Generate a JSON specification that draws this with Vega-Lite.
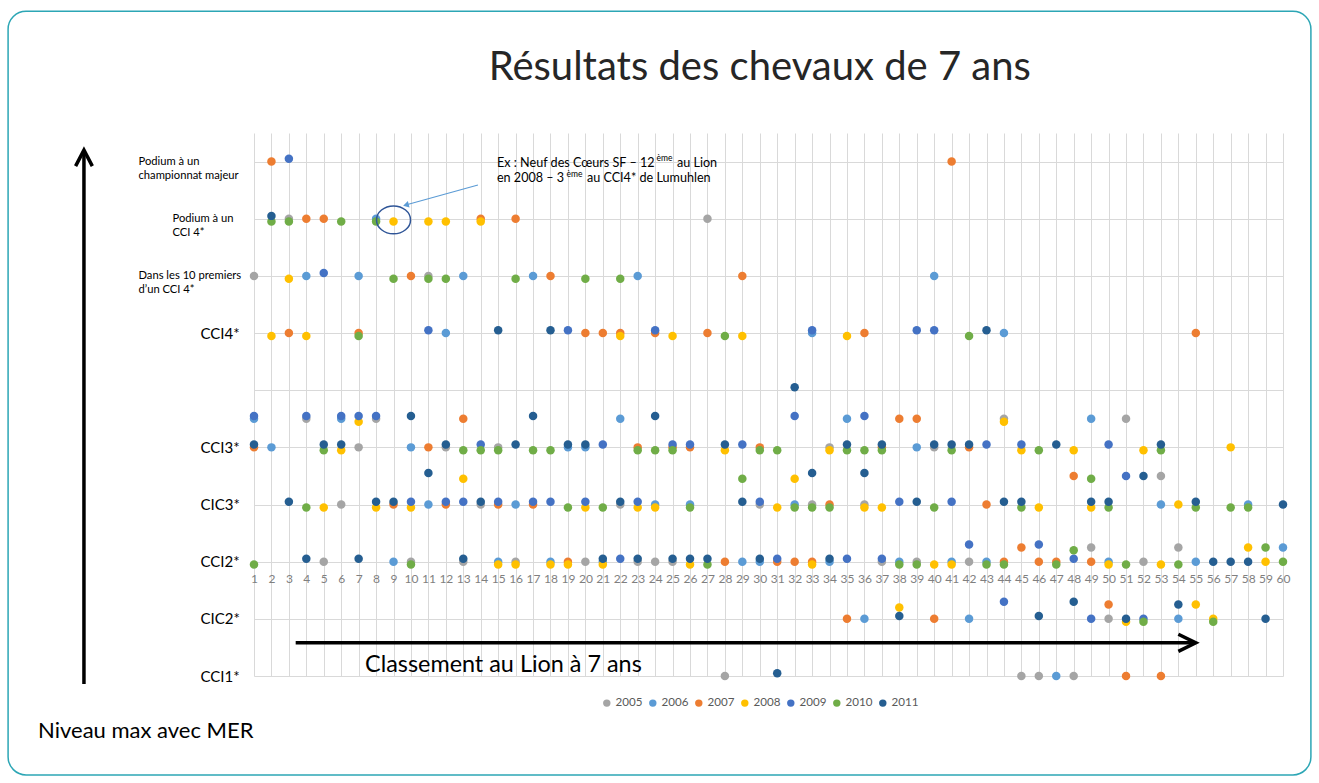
{
"$schema": "https://vega.github.io/schema/vega-lite/v6.json",
"width": 1029, "height": 543,
"autosize": {"type": "none"},
"padding": {"left": 254, "top": 133, "right": 36, "bottom": 107},
"background": "white",
"config": {"view": {"stroke": null}, "font": "Lato"},
"datasets": {
"pts": [
{"rang":1,"niveau":8,"annee":"2005"},{"rang":1,"niveau":5.55,"annee":"2009"},{"rang":1,"niveau":5.5,"annee":"2006"},{"rang":1,"niveau":5.05,"annee":"2011"},{"rang":1,"niveau":5,"annee":"2007"},{"rang":1,"niveau":2.95,"annee":"2010"},
{"rang":2,"niveau":10,"annee":"2007"},{"rang":2,"niveau":9.05,"annee":"2011"},{"rang":2,"niveau":8.95,"annee":"2010"},{"rang":2,"niveau":6.95,"annee":"2008"},{"rang":2,"niveau":5,"annee":"2006"},
{"rang":3,"niveau":10.05,"annee":"2009"},{"rang":3,"niveau":9,"annee":"2005"},{"rang":3,"niveau":8.95,"annee":"2010"},{"rang":3,"niveau":7.95,"annee":"2008"},{"rang":3,"niveau":7,"annee":"2007"},{"rang":3,"niveau":4.05,"annee":"2011"},
{"rang":4,"niveau":9,"annee":"2007"},{"rang":4,"niveau":8,"annee":"2006"},{"rang":4,"niveau":6.95,"annee":"2008"},{"rang":4,"niveau":5.55,"annee":"2009"},{"rang":4,"niveau":5.5,"annee":"2005"},{"rang":4,"niveau":3.95,"annee":"2010"},{"rang":4,"niveau":3.05,"annee":"2011"},
{"rang":5,"niveau":9,"annee":"2007"},{"rang":5,"niveau":8.05,"annee":"2009"},{"rang":5,"niveau":5.05,"annee":"2011"},{"rang":5,"niveau":4.95,"annee":"2010"},{"rang":5,"niveau":3.95,"annee":"2008"},{"rang":5,"niveau":3,"annee":"2005"},
{"rang":6,"niveau":8.95,"annee":"2010"},{"rang":6,"niveau":5.55,"annee":"2009"},{"rang":6,"niveau":5.5,"annee":"2006"},{"rang":6,"niveau":5.05,"annee":"2011"},{"rang":6,"niveau":4.95,"annee":"2008"},{"rang":6,"niveau":4,"annee":"2005"},
{"rang":7,"niveau":8,"annee":"2006"},{"rang":7,"niveau":7,"annee":"2007"},{"rang":7,"niveau":6.95,"annee":"2010"},{"rang":7,"niveau":5.55,"annee":"2009"},{"rang":7,"niveau":5.45,"annee":"2008"},{"rang":7,"niveau":5,"annee":"2005"},{"rang":7,"niveau":3.05,"annee":"2011"},
{"rang":8,"niveau":9,"annee":"2006"},{"rang":8,"niveau":8.95,"annee":"2010"},{"rang":8,"niveau":5.55,"annee":"2009"},{"rang":8,"niveau":5.5,"annee":"2005"},{"rang":8,"niveau":4.05,"annee":"2011"},{"rang":8,"niveau":3.95,"annee":"2008"},
{"rang":9,"niveau":8.95,"annee":"2008"},{"rang":9,"niveau":7.95,"annee":"2010"},{"rang":9,"niveau":4.05,"annee":"2011"},{"rang":9,"niveau":4,"annee":"2007"},{"rang":9,"niveau":3,"annee":"2006"},
{"rang":10,"niveau":8,"annee":"2007"},{"rang":10,"niveau":5.55,"annee":"2011"},{"rang":10,"niveau":5,"annee":"2006"},{"rang":10,"niveau":4.05,"annee":"2009"},{"rang":10,"niveau":3.95,"annee":"2008"},{"rang":10,"niveau":3,"annee":"2005"},{"rang":10,"niveau":2.95,"annee":"2010"},
{"rang":11,"niveau":8.95,"annee":"2008"},{"rang":11,"niveau":8,"annee":"2005"},{"rang":11,"niveau":7.95,"annee":"2010"},{"rang":11,"niveau":7.05,"annee":"2009"},{"rang":11,"niveau":5,"annee":"2007"},{"rang":11,"niveau":4.55,"annee":"2011"},{"rang":11,"niveau":4,"annee":"2006"},
{"rang":12,"niveau":8.95,"annee":"2008"},{"rang":12,"niveau":7.95,"annee":"2010"},{"rang":12,"niveau":7,"annee":"2006"},{"rang":12,"niveau":5.05,"annee":"2011"},{"rang":12,"niveau":5,"annee":"2005"},{"rang":12,"niveau":4.05,"annee":"2009"},{"rang":12,"niveau":4,"annee":"2007"},
{"rang":13,"niveau":8,"annee":"2006"},{"rang":13,"niveau":5.5,"annee":"2007"},{"rang":13,"niveau":4.95,"annee":"2010"},{"rang":13,"niveau":4.45,"annee":"2008"},{"rang":13,"niveau":4.05,"annee":"2009"},{"rang":13,"niveau":3.05,"annee":"2011"},{"rang":13,"niveau":3,"annee":"2005"},
{"rang":14,"niveau":9,"annee":"2007"},{"rang":14,"niveau":8.95,"annee":"2008"},{"rang":14,"niveau":5.05,"annee":"2009"},{"rang":14,"niveau":4.95,"annee":"2010"},{"rang":14,"niveau":4.05,"annee":"2011"},{"rang":14,"niveau":4,"annee":"2005"},
{"rang":15,"niveau":7.05,"annee":"2011"},{"rang":15,"niveau":5,"annee":"2005"},{"rang":15,"niveau":4.95,"annee":"2010"},{"rang":15,"niveau":4.05,"annee":"2009"},{"rang":15,"niveau":4,"annee":"2007"},{"rang":15,"niveau":3,"annee":"2006"},{"rang":15,"niveau":2.95,"annee":"2008"},
{"rang":16,"niveau":9,"annee":"2007"},{"rang":16,"niveau":7.95,"annee":"2010"},{"rang":16,"niveau":5.05,"annee":"2011"},{"rang":16,"niveau":4,"annee":"2006"},{"rang":16,"niveau":3,"annee":"2005"},{"rang":16,"niveau":2.95,"annee":"2008"},
{"rang":17,"niveau":8,"annee":"2006"},{"rang":17,"niveau":5.55,"annee":"2011"},{"rang":17,"niveau":4.95,"annee":"2010"},{"rang":17,"niveau":4.05,"annee":"2009"},{"rang":17,"niveau":4,"annee":"2007"},
{"rang":18,"niveau":8,"annee":"2007"},{"rang":18,"niveau":7.05,"annee":"2011"},{"rang":18,"niveau":4.95,"annee":"2010"},{"rang":18,"niveau":4.05,"annee":"2009"},{"rang":18,"niveau":3,"annee":"2006"},{"rang":18,"niveau":2.95,"annee":"2008"},
{"rang":19,"niveau":7.05,"annee":"2009"},{"rang":19,"niveau":5.05,"annee":"2011"},{"rang":19,"niveau":5,"annee":"2006"},{"rang":19,"niveau":3.95,"annee":"2010"},{"rang":19,"niveau":3,"annee":"2007"},{"rang":19,"niveau":2.95,"annee":"2008"},
{"rang":20,"niveau":7.95,"annee":"2010"},{"rang":20,"niveau":7,"annee":"2007"},{"rang":20,"niveau":5.05,"annee":"2011"},{"rang":20,"niveau":5,"annee":"2006"},{"rang":20,"niveau":4.05,"annee":"2009"},{"rang":20,"niveau":3.95,"annee":"2008"},{"rang":20,"niveau":3,"annee":"2005"},
{"rang":21,"niveau":7,"annee":"2007"},{"rang":21,"niveau":5.05,"annee":"2009"},{"rang":21,"niveau":3.95,"annee":"2010"},{"rang":21,"niveau":3.05,"annee":"2011"},{"rang":21,"niveau":3,"annee":"2006"},{"rang":21,"niveau":2.95,"annee":"2008"},
{"rang":22,"niveau":7.95,"annee":"2010"},{"rang":22,"niveau":7,"annee":"2007"},{"rang":22,"niveau":6.95,"annee":"2008"},{"rang":22,"niveau":5.5,"annee":"2006"},{"rang":22,"niveau":4.05,"annee":"2011"},{"rang":22,"niveau":4,"annee":"2005"},{"rang":22,"niveau":3.05,"annee":"2009"},
{"rang":23,"niveau":8,"annee":"2006"},{"rang":23,"niveau":5,"annee":"2007"},{"rang":23,"niveau":4.95,"annee":"2010"},{"rang":23,"niveau":4.05,"annee":"2009"},{"rang":23,"niveau":3.95,"annee":"2008"},{"rang":23,"niveau":3.05,"annee":"2011"},{"rang":23,"niveau":3,"annee":"2005"},
{"rang":24,"niveau":7.05,"annee":"2009"},{"rang":24,"niveau":7,"annee":"2007"},{"rang":24,"niveau":5.55,"annee":"2011"},{"rang":24,"niveau":4.95,"annee":"2010"},{"rang":24,"niveau":4,"annee":"2006"},{"rang":24,"niveau":3.95,"annee":"2008"},{"rang":24,"niveau":3,"annee":"2005"},
{"rang":25,"niveau":6.95,"annee":"2008"},{"rang":25,"niveau":5.05,"annee":"2009"},{"rang":25,"niveau":5,"annee":"2007"},{"rang":25,"niveau":4.95,"annee":"2010"},{"rang":25,"niveau":3.05,"annee":"2011"},{"rang":25,"niveau":3,"annee":"2005"},
{"rang":26,"niveau":5.05,"annee":"2009"},{"rang":26,"niveau":5,"annee":"2007"},{"rang":26,"niveau":4,"annee":"2006"},{"rang":26,"niveau":3.95,"annee":"2010"},{"rang":26,"niveau":3.05,"annee":"2011"},{"rang":26,"niveau":2.95,"annee":"2008"},
{"rang":27,"niveau":9,"annee":"2005"},{"rang":27,"niveau":7,"annee":"2007"},{"rang":27,"niveau":3.05,"annee":"2011"},{"rang":27,"niveau":2.95,"annee":"2010"},
{"rang":28,"niveau":6.95,"annee":"2010"},{"rang":28,"niveau":5.05,"annee":"2011"},{"rang":28,"niveau":4.95,"annee":"2008"},{"rang":28,"niveau":3,"annee":"2007"},{"rang":28,"niveau":1,"annee":"2005"},
{"rang":29,"niveau":8,"annee":"2007"},{"rang":29,"niveau":6.95,"annee":"2008"},{"rang":29,"niveau":5.05,"annee":"2009"},{"rang":29,"niveau":4.45,"annee":"2010"},{"rang":29,"niveau":4.05,"annee":"2011"},{"rang":29,"niveau":3,"annee":"2006"},
{"rang":30,"niveau":5,"annee":"2007"},{"rang":30,"niveau":4.95,"annee":"2010"},{"rang":30,"niveau":4.05,"annee":"2009"},{"rang":30,"niveau":4,"annee":"2005"},{"rang":30,"niveau":3.05,"annee":"2011"},{"rang":30,"niveau":3,"annee":"2006"},
{"rang":31,"niveau":4.95,"annee":"2010"},{"rang":31,"niveau":3.95,"annee":"2008"},{"rang":31,"niveau":3.05,"annee":"2009"},{"rang":31,"niveau":3,"annee":"2007"},{"rang":31,"niveau":1.05,"annee":"2011"},
{"rang":32,"niveau":6.05,"annee":"2011"},{"rang":32,"niveau":5.55,"annee":"2009"},{"rang":32,"niveau":4.45,"annee":"2008"},{"rang":32,"niveau":4,"annee":"2006"},{"rang":32,"niveau":3.95,"annee":"2010"},{"rang":32,"niveau":3,"annee":"2007"},
{"rang":33,"niveau":7.05,"annee":"2009"},{"rang":33,"niveau":7,"annee":"2006"},{"rang":33,"niveau":4.55,"annee":"2011"},{"rang":33,"niveau":4,"annee":"2005"},{"rang":33,"niveau":3.95,"annee":"2010"},{"rang":33,"niveau":3,"annee":"2007"},{"rang":33,"niveau":2.95,"annee":"2008"},
{"rang":34,"niveau":5,"annee":"2005"},{"rang":34,"niveau":4.95,"annee":"2008"},{"rang":34,"niveau":4,"annee":"2007"},{"rang":34,"niveau":3.95,"annee":"2010"},{"rang":34,"niveau":3.05,"annee":"2011"},{"rang":34,"niveau":3,"annee":"2006"},
{"rang":35,"niveau":6.95,"annee":"2008"},{"rang":35,"niveau":5.5,"annee":"2006"},{"rang":35,"niveau":5.05,"annee":"2011"},{"rang":35,"niveau":4.95,"annee":"2010"},{"rang":35,"niveau":3.05,"annee":"2009"},{"rang":35,"niveau":2,"annee":"2007"},
{"rang":36,"niveau":7,"annee":"2007"},{"rang":36,"niveau":5.55,"annee":"2009"},{"rang":36,"niveau":4.95,"annee":"2010"},{"rang":36,"niveau":4.55,"annee":"2011"},{"rang":36,"niveau":4,"annee":"2005"},{"rang":36,"niveau":3.95,"annee":"2008"},{"rang":36,"niveau":2,"annee":"2006"},
{"rang":37,"niveau":5.05,"annee":"2011"},{"rang":37,"niveau":5,"annee":"2007"},{"rang":37,"niveau":4.95,"annee":"2010"},{"rang":37,"niveau":3.95,"annee":"2008"},{"rang":37,"niveau":3.05,"annee":"2009"},{"rang":37,"niveau":3,"annee":"2005"},
{"rang":38,"niveau":5.5,"annee":"2007"},{"rang":38,"niveau":4.05,"annee":"2009"},{"rang":38,"niveau":3,"annee":"2006"},{"rang":38,"niveau":2.95,"annee":"2010"},{"rang":38,"niveau":2.2,"annee":"2008"},{"rang":38,"niveau":2.05,"annee":"2011"},
{"rang":39,"niveau":7.05,"annee":"2009"},{"rang":39,"niveau":5.5,"annee":"2007"},{"rang":39,"niveau":5,"annee":"2006"},{"rang":39,"niveau":4.05,"annee":"2011"},{"rang":39,"niveau":3,"annee":"2005"},{"rang":39,"niveau":2.95,"annee":"2010"},
{"rang":40,"niveau":8,"annee":"2006"},{"rang":40,"niveau":7.05,"annee":"2009"},{"rang":40,"niveau":5.05,"annee":"2011"},{"rang":40,"niveau":5,"annee":"2005"},{"rang":40,"niveau":3.95,"annee":"2010"},{"rang":40,"niveau":2.95,"annee":"2008"},{"rang":40,"niveau":2,"annee":"2007"},
{"rang":41,"niveau":10,"annee":"2007"},{"rang":41,"niveau":5.05,"annee":"2011"},{"rang":41,"niveau":4.95,"annee":"2010"},{"rang":41,"niveau":4.05,"annee":"2009"},{"rang":41,"niveau":3,"annee":"2006"},{"rang":41,"niveau":2.95,"annee":"2008"},
{"rang":42,"niveau":6.95,"annee":"2010"},{"rang":42,"niveau":5.05,"annee":"2011"},{"rang":42,"niveau":5,"annee":"2007"},{"rang":42,"niveau":3.3,"annee":"2009"},{"rang":42,"niveau":3,"annee":"2005"},{"rang":42,"niveau":2,"annee":"2006"},
{"rang":43,"niveau":7.05,"annee":"2011"},{"rang":43,"niveau":5.05,"annee":"2009"},{"rang":43,"niveau":4,"annee":"2007"},{"rang":43,"niveau":3,"annee":"2006"},{"rang":43,"niveau":2.95,"annee":"2010"},
{"rang":44,"niveau":7,"annee":"2006"},{"rang":44,"niveau":5.5,"annee":"2005"},{"rang":44,"niveau":5.45,"annee":"2008"},{"rang":44,"niveau":4.05,"annee":"2011"},{"rang":44,"niveau":3,"annee":"2007"},{"rang":44,"niveau":2.95,"annee":"2010"},{"rang":44,"niveau":2.3,"annee":"2009"},
{"rang":45,"niveau":5.05,"annee":"2009"},{"rang":45,"niveau":4.95,"annee":"2008"},{"rang":45,"niveau":4.05,"annee":"2011"},{"rang":45,"niveau":3.95,"annee":"2010"},{"rang":45,"niveau":3.25,"annee":"2007"},{"rang":45,"niveau":1,"annee":"2005"},
{"rang":46,"niveau":4.95,"annee":"2010"},{"rang":46,"niveau":3.95,"annee":"2008"},{"rang":46,"niveau":3.3,"annee":"2009"},{"rang":46,"niveau":3,"annee":"2007"},{"rang":46,"niveau":2.05,"annee":"2011"},{"rang":46,"niveau":1,"annee":"2005"},
{"rang":47,"niveau":5.05,"annee":"2011"},{"rang":47,"niveau":3,"annee":"2007"},{"rang":47,"niveau":2.95,"annee":"2010"},{"rang":47,"niveau":1,"annee":"2006"},
{"rang":48,"niveau":4.95,"annee":"2008"},{"rang":48,"niveau":4.5,"annee":"2007"},{"rang":48,"niveau":3.2,"annee":"2010"},{"rang":48,"niveau":3.05,"annee":"2009"},{"rang":48,"niveau":2.3,"annee":"2011"},{"rang":48,"niveau":1,"annee":"2005"},
{"rang":49,"niveau":5.5,"annee":"2006"},{"rang":49,"niveau":4.45,"annee":"2010"},{"rang":49,"niveau":4.05,"annee":"2011"},{"rang":49,"niveau":3.95,"annee":"2008"},{"rang":49,"niveau":3.25,"annee":"2005"},{"rang":49,"niveau":3,"annee":"2007"},{"rang":49,"niveau":2,"annee":"2009"},
{"rang":50,"niveau":5.05,"annee":"2009"},{"rang":50,"niveau":4.05,"annee":"2011"},{"rang":50,"niveau":3.95,"annee":"2010"},{"rang":50,"niveau":3,"annee":"2006"},{"rang":50,"niveau":2.95,"annee":"2008"},{"rang":50,"niveau":2.25,"annee":"2007"},{"rang":50,"niveau":2,"annee":"2005"},
{"rang":51,"niveau":5.5,"annee":"2005"},{"rang":51,"niveau":4.5,"annee":"2009"},{"rang":51,"niveau":2.95,"annee":"2010"},{"rang":51,"niveau":2,"annee":"2011"},{"rang":51,"niveau":1.95,"annee":"2008"},{"rang":51,"niveau":1,"annee":"2007"},
{"rang":52,"niveau":4.95,"annee":"2008"},{"rang":52,"niveau":4.5,"annee":"2011"},{"rang":52,"niveau":3,"annee":"2005"},{"rang":52,"niveau":2,"annee":"2009"},{"rang":52,"niveau":1.95,"annee":"2010"},
{"rang":53,"niveau":5.05,"annee":"2011"},{"rang":53,"niveau":4.95,"annee":"2010"},{"rang":53,"niveau":4.5,"annee":"2005"},{"rang":53,"niveau":4,"annee":"2006"},{"rang":53,"niveau":2.95,"annee":"2008"},{"rang":53,"niveau":1,"annee":"2007"},
{"rang":54,"niveau":4,"annee":"2008"},{"rang":54,"niveau":3.25,"annee":"2005"},{"rang":54,"niveau":2.95,"annee":"2010"},{"rang":54,"niveau":2.25,"annee":"2011"},{"rang":54,"niveau":2,"annee":"2006"},
{"rang":55,"niveau":7,"annee":"2007"},{"rang":55,"niveau":4.05,"annee":"2011"},{"rang":55,"niveau":3.95,"annee":"2010"},{"rang":55,"niveau":3,"annee":"2006"},{"rang":55,"niveau":2.25,"annee":"2008"},
{"rang":56,"niveau":3,"annee":"2011"},{"rang":56,"niveau":2,"annee":"2008"},{"rang":56,"niveau":1.95,"annee":"2010"},
{"rang":57,"niveau":5,"annee":"2008"},{"rang":57,"niveau":3.95,"annee":"2010"},{"rang":57,"niveau":3,"annee":"2011"},
{"rang":58,"niveau":4,"annee":"2006"},{"rang":58,"niveau":3.95,"annee":"2010"},{"rang":58,"niveau":3.25,"annee":"2008"},{"rang":58,"niveau":3,"annee":"2011"},
{"rang":59,"niveau":3.25,"annee":"2010"},{"rang":59,"niveau":3,"annee":"2008"},{"rang":59,"niveau":2,"annee":"2011"},
{"rang":60,"niveau":4,"annee":"2011"},{"rang":60,"niveau":3.25,"annee":"2006"},{"rang":60,"niveau":3,"annee":"2010"}
]
},
"layer": [
{
 "data": {"name": "pts"},
 "mark": {"type": "circle", "size": 72, "opacity": 1},
 "encoding": {
  "x": {"field": "rang", "type": "quantitative",
        "scale": {"domain": [1, 60], "nice": false, "zero": false},
        "axis": {"title": null, "values": [1,2,3,4,5,6,7,8,9,10,11,12,13,14,15,16,17,18,19,20,21,22,23,24,25,26,27,28,29,30,31,32,33,34,35,36,37,38,39,40,41,42,43,44,45,46,47,48,49,50,51,52,53,54,55,56,57,58,59,60],
                 "tickCount": 60, "format": "d", "offset": -114, "domain": false, "ticks": false, "labelPadding": 11,
                 "labelFontSize": 12, "labelColor": "#7F7F7F", "grid": true, "gridColor": "#D9D9D9", "gridWidth": 1,
                 "labelFlush": false, "labelOverlap": false}},
  "y": {"field": "niveau", "type": "quantitative",
        "scale": {"domain": [1, 10.5], "nice": false, "zero": false},
        "axis": {"title": null, "values": [1,2,3,4,5,6,7,8,9,10], "domain": false, "ticks": false,
                 "grid": true, "gridColor": "#D9D9D9", "gridWidth": 1, "labelAlign": "left", "labelColor": "#000000",
                 "labelLimit": 0, "labelLineHeight": 14,
                 "labelExpr": "datum.value == 10 ? ['Podium à un', 'championnat majeur'] : datum.value == 9 ? ['Podium à un', 'CCI 4*'] : datum.value == 8 ? ['Dans les 10 premiers', 'd’un CCI 4*'] : datum.value == 7 ? 'CCI4*' : datum.value == 5 ? 'CCI3*' : datum.value == 4 ? 'CIC3*' : datum.value == 3 ? 'CCI2*' : datum.value == 2 ? 'CIC2*' : datum.value == 1 ? 'CCI1*' : ''",
                 "labelPadding": {"condition": [{"test": "datum.value == 9", "value": 82}, {"test": "datum.value >= 8", "value": 116}], "value": 54},
                 "labelFontSize": {"condition": {"test": "datum.value >= 8", "value": 11.2}, "value": 15}}},
  "color": {"field": "annee", "type": "nominal",
            "scale": {"domain": ["2005","2006","2007","2008","2009","2010","2011"],
                      "range": ["#A5A5A5","#5B9BD5","#ED7D31","#FFC000","#4472C4","#70AD47","#255E91"]},
            "legend": {"title": null, "orient": "none", "legendX": 347, "legendY": 564, "direction": "horizontal", "columns": 7,
                       "symbolType": "circle", "symbolSize": 55, "labelFontSize": 11.6, "labelColor": "#595959",
                       "labelOffset": 3, "columnPadding": 4, "padding": 0}},
  "order": {"field": "annee", "type": "ordinal"}
 }
},
{
 "data": {"values": [{"rang": -13.1, "rang2": 61.6, "niveau": 12.63, "niveau2": -0.73}]},
 "mark": {"type": "rect", "fillOpacity": 0, "stroke": "#2CA6B5", "strokeWidth": 1.5, "cornerRadius": 18},
 "encoding": {
  "x": {"field": "rang", "type": "quantitative"},
  "x2": {"field": "rang2"},
  "y": {"field": "niveau", "type": "quantitative"},
  "y2": {"field": "niveau2"}
 }
},
{
 "data": {"values": [{"rang": 9, "niveau": 8.98}]},
 "mark": {"type": "point", "shape": "M-1,0A1,0.82,0,1,0,1,0A1,0.82,0,1,0,-1,0Z", "size": 1156, "filled": false, "stroke": "#2F5597", "strokeWidth": 1.5, "opacity": 1},
 "encoding": {"x": {"field": "rang", "type": "quantitative"}, "y": {"field": "niveau", "type": "quantitative"}}
},
{
 "data": {"values": [{"rang": 13.84, "rang2": 9.75, "niveau": 9.59, "niveau2": 9.245}]},
 "mark": {"type": "rule", "color": "#5B9BD5", "strokeWidth": 1.2},
 "encoding": {"x": {"field": "rang", "type": "quantitative"}, "x2": {"field": "rang2"}, "y": {"field": "niveau", "type": "quantitative"}, "y2": {"field": "niveau2"}}
},
{
 "data": {"values": [{"rang": 9.71, "niveau": 9.24}]},
 "mark": {"type": "point", "shape": "triangle-up", "angle": 255, "size": 45, "filled": true, "color": "#5B9BD5", "opacity": 1},
 "encoding": {"x": {"field": "rang", "type": "quantitative"}, "y": {"field": "niveau", "type": "quantitative"}}
},
{
 "data": {"values": [
   {"g": "v", "o": 1, "rang": -8.75, "niveau": 0.86}, {"g": "v", "o": 2, "rang": -8.75, "niveau": 10.2},
   {"g": "vh", "o": 1, "rang": -9.23, "niveau": 9.92}, {"g": "vh", "o": 2, "rang": -8.75, "niveau": 10.2}, {"g": "vh", "o": 3, "rang": -8.27, "niveau": 9.92},
   {"g": "h", "o": 1, "rang": 3.39, "niveau": 1.58}, {"g": "h", "o": 2, "rang": 54.9, "niveau": 1.58},
   {"g": "hh", "o": 1, "rang": 54.0, "niveau": 1.73}, {"g": "hh", "o": 2, "rang": 55.0, "niveau": 1.58}, {"g": "hh", "o": 3, "rang": 54.0, "niveau": 1.43}
 ]},
 "mark": {"type": "line", "color": "#000000", "strokeWidth": 3.5, "strokeJoin": "miter", "strokeCap": "butt"},
 "encoding": {"x": {"field": "rang", "type": "quantitative"}, "y": {"field": "niveau", "type": "quantitative"}, "detail": {"field": "g"}, "order": {"field": "o", "type": "quantitative"}}
},
{
 "data": {"values": [{"rang": 30.0, "niveau": 11.64, "t": "Résultats des chevaux de 7 ans"}]},
 "mark": {"type": "text", "fontSize": 40, "align": "center", "baseline": "middle", "color": "#262626"},
 "encoding": {"x": {"field": "rang", "type": "quantitative"}, "y": {"field": "niveau", "type": "quantitative"}, "text": {"field": "t"}}
},
{
 "data": {"values": [{"rang": 15.3, "niveau": 1.07, "t": "Classement au Lion à 7 ans"}]},
 "mark": {"type": "text", "fontSize": 23.4, "align": "center", "baseline": "alphabetic", "color": "#000000"},
 "encoding": {"x": {"field": "rang", "type": "quantitative"}, "y": {"field": "niveau", "type": "quantitative"}, "text": {"field": "t"}}
},
{
 "data": {"values": [{"rang": -11.38, "niveau": 0.04, "t": "Niveau max avec MER"}]},
 "mark": {"type": "text", "fontSize": 22, "align": "left", "baseline": "middle", "color": "#000000"},
 "encoding": {"x": {"field": "rang", "type": "quantitative"}, "y": {"field": "niveau", "type": "quantitative"}, "text": {"field": "t"}}
},
{
 "data": {"values": [
   {"rang": 14.93, "niveau": 9.98, "t": "Ex : Neuf des Cœurs SF – 12"},
   {"rang": 25.25, "niveau": 9.98, "t": "au Lion"},
   {"rang": 14.93, "niveau": 9.71, "t": "en 2008 – 3"},
   {"rang": 20.09, "niveau": 9.71, "t": "au CCI4* de Lumuhlen"}
 ]},
 "mark": {"type": "text", "fontSize": 12.6, "align": "left", "baseline": "middle", "color": "#000000"},
 "encoding": {"x": {"field": "rang", "type": "quantitative"}, "y": {"field": "niveau", "type": "quantitative"}, "text": {"field": "t"}}
},
{
 "data": {"values": [
   {"rang": 24.08, "niveau": 10.06, "t": "ème"},
   {"rang": 18.92, "niveau": 9.78, "t": "ème"}
 ]},
 "mark": {"type": "text", "fontSize": 8.5, "align": "left", "baseline": "middle", "color": "#000000"},
 "encoding": {"x": {"field": "rang", "type": "quantitative"}, "y": {"field": "niveau", "type": "quantitative"}, "text": {"field": "t"}}
}
]
}
